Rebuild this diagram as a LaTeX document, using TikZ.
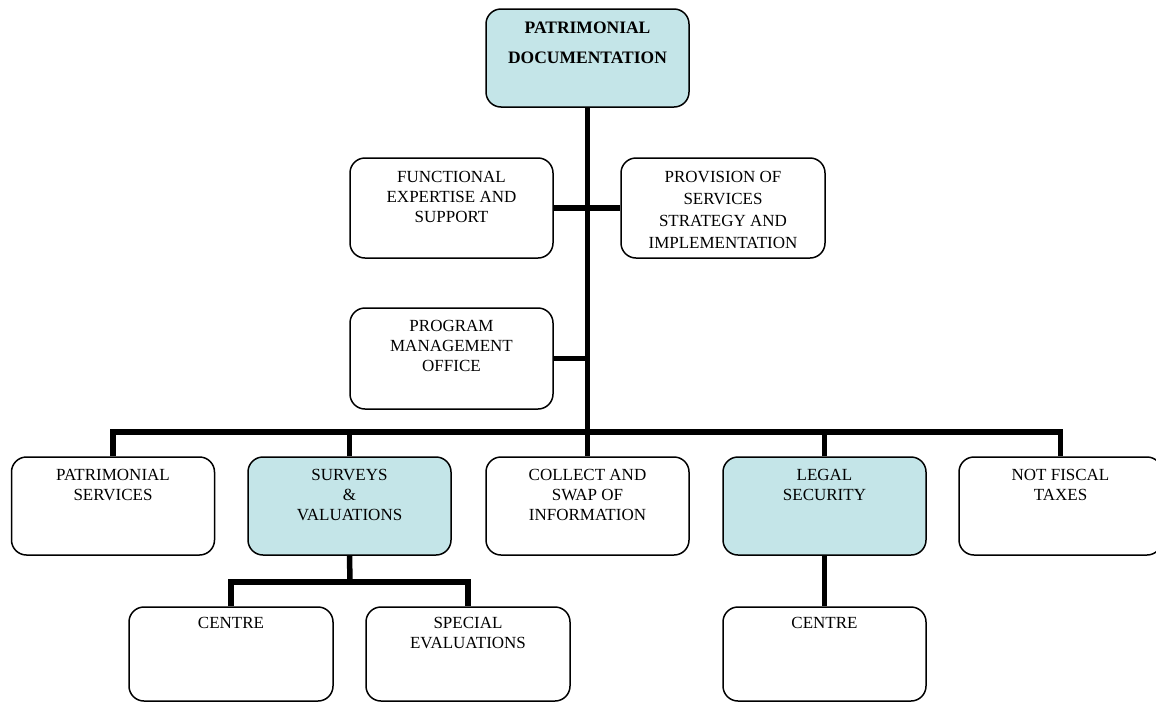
\documentclass[tikz,border=0pt]{standalone}
\usepackage{fontspec}
\setmainfont{Liberation Serif}
\definecolor{boxfill}{HTML}{C4E5E8}
\begin{document}
\begin{tikzpicture}[x=1pt,y=-1pt,
  box/.style={draw=black, line width=1.5pt, rounded corners=15pt, inner sep=0pt, minimum width=203pt},
  hl/.style={box, fill=boxfill},
  conn/.style={draw=black, line width=5.5pt, line cap=butt, line join=miter},
  txt/.style={anchor=base, inner sep=0pt, font=\fontsize{17}{20}\selectfont, align=center},
  ttxt/.style={anchor=base, inner sep=0pt, font=\fontsize{17.5}{30}\selectfont\bfseries, align=center}]
\useasboundingbox (0,0) rectangle (1156,702);
% coordinates
\coordinate (busC) at (587,432);
\coordinate (sv) at (350,582);
% boxes
\node[hl, minimum height=98pt] (top) at (587.5,58) {};
\node[box, minimum height=100pt] (func) at (451.5,208) {};
\node[box, minimum height=100pt, minimum width=204pt] (prov) at (723,208) {};
\node[box, minimum height=101pt] (prog) at (451.5,358.5) {};
\node[box, minimum height=98pt] (patri) at (113,506) {};
\node[hl, minimum height=98pt] (surv) at (349.5,506) {};
\node[box, minimum height=98pt] (coll) at (587.5,506) {};
\node[hl, minimum height=98pt] (legal) at (824.5,506) {};
\node[box, minimum height=98pt] (nf) at (1060.5,506) {};
\node[box, minimum height=94pt, minimum width=204pt] (cenL) at (231,654) {};
\node[box, minimum height=94pt, minimum width=204pt] (spec) at (468,654) {};
\node[box, minimum height=94pt] (cenR) at (824.5,654) {};
% connectors
\draw[conn] (top.south) -- (coll.north);
\draw[conn] (func.east) -- (prov.west);
\draw[conn] (prog.east) -- (prog.east -| top.south);
\draw[conn] (patri.north) -- (patri.north |- busC) -- (nf.north |- busC) -- (nf.north);
\draw[conn] (surv.north) -- (surv.north |- busC);
\draw[conn] (legal.north) -- (legal.north |- busC);
\draw[conn] (surv.south) -- (sv);
\draw[conn] (cenL.north) |- (sv) -| (spec.north);
\draw[conn] (legal.south) -- (cenR.north);
% texts
\node[ttxt] (topT) at (587.5,33) {\parbox[t]{200pt}{\centering PATRIMONIAL\\DOCUMENTATION}};
\node[txt] (funcT) at (451.5,182) {\parbox[t]{200pt}{\centering FUNCTIONAL\\EXPERTISE AND\\SUPPORT}};
\node[txt] (provT) at (723,182) {\parbox[t]{200pt}{\centering\fontsize{17}{22}\selectfont PROVISION OF\\SERVICES\\STRATEGY AND\\IMPLEMENTATION}};
\node[txt] (progT) at (451.5,331) {\parbox[t]{200pt}{\centering PROGRAM\\MANAGEMENT\\OFFICE}};
\node[txt] (patriT) at (113,480) {\parbox[t]{200pt}{\centering PATRIMONIAL\\SERVICES}};
\node[txt] (survT) at (349.5,480) {\parbox[t]{200pt}{\centering SURVEYS\\\&\\VALUATIONS}};
\node[txt] (collT) at (587.5,480) {\parbox[t]{200pt}{\centering COLLECT AND\\SWAP OF\\INFORMATION}};
\node[txt] (legalT) at (824.5,480) {\parbox[t]{200pt}{\centering LEGAL\\SECURITY}};
\node[txt] (nfT) at (1060.5,480) {\parbox[t]{200pt}{\centering NOT FISCAL\\TAXES}};
\node[txt] (cenLT) at (231,628) {\parbox[t]{200pt}{\centering CENTRE}};
\node[txt] (specT) at (468,628) {\parbox[t]{200pt}{\centering SPECIAL\\EVALUATIONS}};
\node[txt] (cenRT) at (824.5,628) {\parbox[t]{200pt}{\centering CENTRE}};
\end{tikzpicture}
\end{document}
